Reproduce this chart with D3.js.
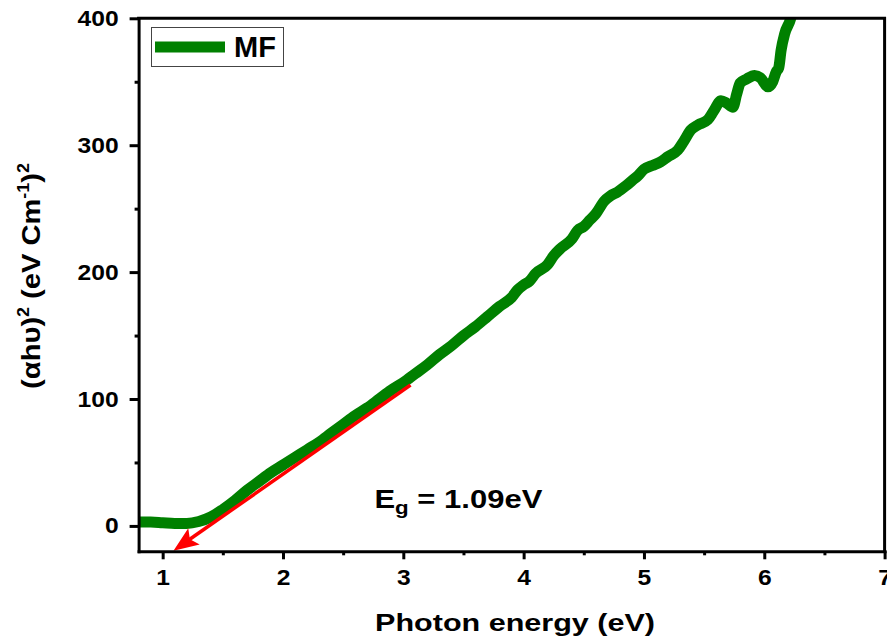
<!DOCTYPE html>
<html>
<head>
<meta charset="utf-8">
<script src="https://cdn.jsdelivr.net/npm/d3@7"></script>
<style>
  body { margin: 0; background: #fff; }
  svg { display: block; }
  text { font-family: Arial, "Liberation Sans", sans-serif; font-weight: bold; fill: #000; }
</style>
</head>
<body>
<svg id="chart" width="887" height="642"></svg>
<script>

/*******************
 * DATA
 *******************/

// photon energy (eV) and (alpha h nu)^2
var energy = [0.80, 0.90, 1.00, 1.10, 1.20, 1.30, 1.40, 1.50, 1.60, 1.70,
  1.80, 1.90, 2.00, 2.10, 2.20, 2.30, 2.40, 2.50, 2.60, 2.70,
  2.80, 2.90, 3.00, 3.10, 3.20, 3.30, 3.40, 3.50, 3.60, 3.70,
  3.80, 3.90, 3.95, 4.00, 4.05, 4.10, 4.20, 4.25, 4.30, 4.40,
  4.45, 4.50, 4.55, 4.60, 4.67, 4.72, 4.78, 4.85, 4.90, 4.95,
  5.00, 5.07, 5.14, 5.20, 5.28, 5.33, 5.39, 5.45, 5.53, 5.58,
  5.64, 5.69, 5.74, 5.77, 5.80, 5.85, 5.92, 5.97, 6.03, 6.07,
  6.10, 6.12, 6.14, 6.17, 6.22, 6.26];
var absorb = [3, 3, 2.5, 2, 2, 3.5, 7, 13, 20, 28,
  35, 42, 48, 54, 60, 66, 73, 80, 87, 93,
  100, 107, 113, 120, 127, 135, 142, 150, 157, 165,
  173, 180, 186, 190, 193, 199, 206, 213, 218, 226,
  233, 236, 241, 246, 256, 260, 263, 268, 272, 276,
  281, 284, 287, 291, 296, 303, 312, 316, 320, 327,
  335, 333, 330, 340, 349, 352, 355, 353, 346, 350,
  358, 361, 375, 388, 400, 418];

var xTicks = [1, 2, 3, 4, 5, 6, 7];
var xMinor = [1.5, 2.5, 3.5, 4.5, 5.5, 6.5];
var yTicks = [0, 100, 200, 300, 400];
var yMinor = [50, 150, 250, 350];

// extrapolated linear fit (red arrow) and band gap label
var fitFrom = [3.06, 111];
var fitEnd = [1.09, -19.5];
var gapAt = [2.76, 14];
var gapValue = ' = 1.09eV';
var seriesName = 'MF';

/*******************
 * SCALES
 *******************/

var svg = d3.select('#chart');
var x = d3.scaleLinear().domain([0.8, 7]).range([138.6, 884.6]);
var y = d3.scaleLinear().domain([-20, 400]).range([551.3, 18.3]);

var points = energy.map(function (e, i) { return [e, absorb[i]]; });

svg.append('clipPath').attr('id', 'plot-clip')
  .append('rect')
  .attr('x', x(0.8)).attr('y', y(400))
  .attr('width', x(7) - x(0.8)).attr('height', y(-20) - y(400));

/*******************
 * CURVE
 *******************/

var line = d3.line()
  .x(function (d) { return x(d[0]); })
  .y(function (d) { return y(d[1]); })
  .curve(d3.curveMonotoneX);

svg.append('path')
  .datum(points)
  .attr('clip-path', 'url(#plot-clip)')
  .attr('d', line)
  .attr('fill', 'none')
  .attr('stroke', '#008000')
  .attr('stroke-width', 11)
  .attr('stroke-linejoin', 'round')
  .attr('stroke-linecap', 'round');

// red arrow: the fit line extended down to the energy axis
var p0 = [x(fitFrom[0]), y(fitFrom[1])];
var p1 = [x(fitEnd[0]), y(fitEnd[1])];
var len = Math.hypot(p1[0] - p0[0], p1[1] - p0[1]);
var ux = (p1[0] - p0[0]) / len, uy = (p1[1] - p0[1]) / len;
var base = [p1[0] - ux * 25, p1[1] - uy * 25];

svg.append('line')
  .attr('x1', p0[0]).attr('y1', p0[1])
  .attr('x2', base[0] + ux * 6).attr('y2', base[1] + uy * 6)
  .attr('stroke', '#ff0000')
  .attr('stroke-width', 3.5);

svg.append('polygon')
  .attr('points', [
    p1,
    [base[0] - uy * 10, base[1] + ux * 10],
    [base[0] + ux * 5, base[1] + uy * 5],
    [base[0] + uy * 10, base[1] - ux * 10]
  ].map(function (p) { return p.join(','); }).join(' '))
  .attr('fill', '#ff0000');

/*******************
 * AXES
 *******************/

function styleAxis(g) {
  g.attr('font-size', 22).attr('font-family', null);
  g.select('.domain').attr('stroke-width', 3).attr('stroke-linecap', 'square');
  g.selectAll('.tick line').attr('stroke-width', 3);
}

var gx = svg.append('g')
  .attr('transform', 'translate(0,' + y(-20) + ')')
  .call(d3.axisBottom(x).tickValues(xTicks).tickSize(8).tickPadding(10)
    .tickSizeOuter(0).tickFormat(d3.format('d')));
styleAxis(gx);
gx.selectAll('.tick text').attr('transform', 'scale(1.12,1)');

svg.append('g')
  .attr('transform', 'translate(0,' + y(-20) + ')')
  .call(d3.axisBottom(x).tickValues(xMinor).tickSize(4).tickFormat(''))
  .call(function (g) { g.select('.domain').remove(); })
  .selectAll('.tick line').attr('stroke-width', 3);

var gy = svg.append('g')
  .attr('transform', 'translate(' + x(0.8) + ',0)')
  .call(d3.axisLeft(y).tickValues(yTicks).tickSize(9).tickPadding(11)
    .tickSizeOuter(0).tickFormat(d3.format('d')));
styleAxis(gy);
gy.selectAll('.tick text').each(function () {
  var t = d3.select(this);
  t.attr('transform', 'translate(' + t.attr('x') + ',0) scale(1.12,1)').attr('x', 0);
});

svg.append('g')
  .attr('transform', 'translate(' + x(0.8) + ',0)')
  .call(d3.axisLeft(y).tickValues(yMinor).tickSize(4).tickFormat(''))
  .call(function (g) { g.select('.domain').remove(); })
  .selectAll('.tick line').attr('stroke-width', 3);

// top and right frame
svg.append('path')
  .attr('d', 'M' + x(0.8) + ',' + y(400) + 'H' + x(7) + 'V' + y(-20))
  .attr('fill', 'none')
  .attr('stroke', '#000')
  .attr('stroke-width', 3)
  .attr('stroke-linecap', 'square');

/*******************
 * LABELS
 *******************/

// stretch a text horizontally to a given width (the original is a bit wide)
function stretchText(sel, transform, width) {
  var w = sel.node().getComputedTextLength();
  sel.attr('transform', transform + ' scale(' + (width / w) + ',1)');
}

var xTitle = svg.append('text')
  .attr('text-anchor', 'middle')
  .attr('font-size', 24)
  .text('Photon energy (eV)');
stretchText(xTitle, 'translate(515,631)', 280);

var yTitle = svg.append('text')
  .attr('text-anchor', 'middle')
  .attr('font-size', 26);
yTitle.append('tspan').text('(\u03b1h\u03c5)');
yTitle.append('tspan').attr('font-size', 16).attr('dy', -11).text('2');
yTitle.append('tspan').attr('dy', 11).text(' (eV Cm');
yTitle.append('tspan').attr('font-size', 16).attr('dy', -11).text('-1');
yTitle.append('tspan').attr('dy', 11).text(')');
yTitle.append('tspan').attr('font-size', 16).attr('dy', -11).text('2');
stretchText(yTitle, 'translate(40,276) rotate(-90)', 226);

var gap = svg.append('text').attr('font-size', 25);
gap.append('tspan').text('E');
gap.append('tspan').attr('font-size', 18).attr('dy', 6).text('g');
gap.append('tspan').attr('dy', -6).text(gapValue);
stretchText(gap, 'translate(' + x(gapAt[0]) + ',' + y(gapAt[1]) + ')', 168);

/*******************
 * LEGEND
 *******************/

var legend = svg.append('g');
legend.append('rect')
  .attr('x', 151.5).attr('y', 27.5)
  .attr('width', 132).attr('height', 39)
  .attr('fill', '#fff')
  .attr('stroke', '#444')
  .attr('stroke-width', 1);
legend.append('line')
  .attr('x1', 155).attr('x2', 225)
  .attr('y1', 47).attr('y2', 47)
  .attr('stroke', '#008000')
  .attr('stroke-width', 11);
legend.append('text')
  .attr('x', 234).attr('y', 57)
  .attr('font-size', 29)
  .text(seriesName);

</script>
</body>
</html>
